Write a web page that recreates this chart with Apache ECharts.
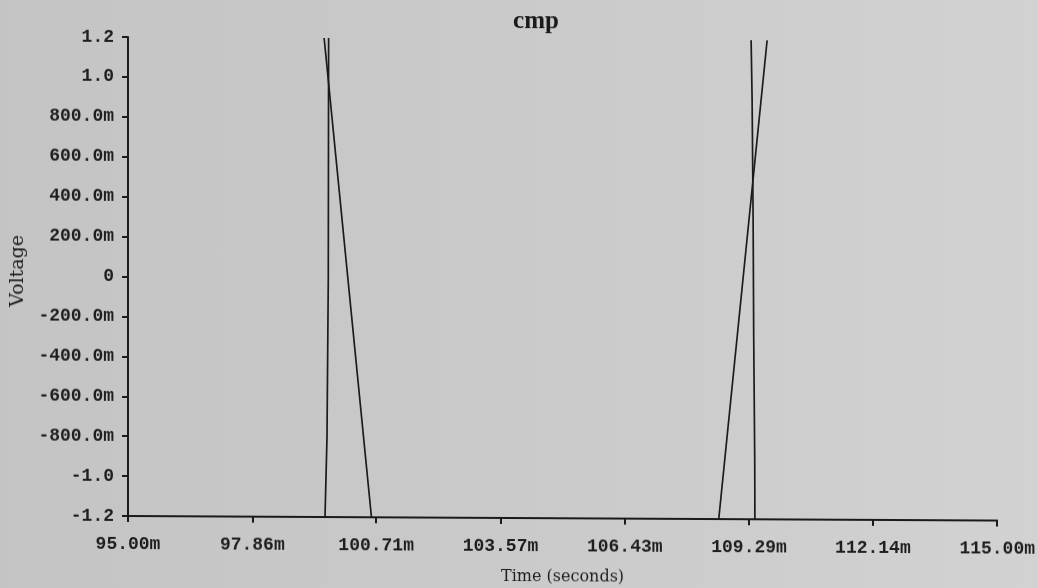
<!DOCTYPE html>
<html>
<head>
<meta charset="utf-8">
<script src="https://cdn.jsdelivr.net/npm/echarts@6/dist/echarts.min.js"></script>
<style>
  html, body { margin: 0; padding: 0; }
  body { width: 1038px; height: 588px; overflow: hidden;
         background: linear-gradient(90deg, #c4c4c4 0%, #cacaca 50%, #d2d2d2 100%); }
  #chart { width: 1038px; height: 588px; transform: skewY(0.3deg); transform-origin: 128px 0; }
</style>
</head>
<body>
<div id="chart"></div>
<script>
// ---- Data (time in ms, voltage in V) ----
const chartTitle = 'cmp';
const xAxisName = 'Time (seconds)';
const yAxisName = 'Voltage';

const xTickLabels = ['95.00m', '97.86m', '100.71m', '103.57m', '106.43m', '109.29m', '112.14m', '115.00m'];
const yTickValues = [-1.2, -1.0, -0.8, -0.6, -0.4, -0.2, 0, 0.2, 0.4, 0.6, 0.8, 1.0, 1.2];
const yTickLabels = ['-1.2', '-1.0', '-800.0m', '-600.0m', '-400.0m', '-200.0m', '0',
                     '200.0m', '400.0m', '600.0m', '800.0m', '1.0', '1.2'];

// ramp (triangle) signal: visible segments only, null = break
const rampTime = [99.513, 100.602, null, 108.593, 109.706];
const rampVolt = [1.2, -1.2, null, -1.2, 1.2];

// comparator output: steep edges, visible segments only
const cmpTime = [99.533, 99.579, 99.609, 99.616, null, 109.338, 109.361, 109.384, 109.398, 109.421, 109.425];
const cmpVolt = [-1.2, -0.8, 0.0, 1.2, null, 1.2, 0.9, 0.3, -0.3, -0.9, -1.2];

// ---- build ----
function pairs(xs, ys) {
  return xs.map((x, i) => (x === null || ys[i] === null) ? [NaN, NaN] : [x, ys[i]]);
}
const xTickValues = xTickLabels.map(s => parseFloat(s));
const xMin = xTickValues[0], xMax = xTickValues[xTickValues.length - 1];

const labelFont = { fontFamily: '"Liberation Mono", "DejaVu Sans Mono", monospace', fontSize: 18, fontWeight: 'bold', color: '#1e1e1e' };
const ink = '#1a1a1a';

function nearestLabel(values, labels, v) {
  let best = 0;
  values.forEach((t, i) => { if (Math.abs(t - v) < Math.abs(values[best] - v)) best = i; });
  return labels[best];
}

const chart = echarts.init(document.getElementById('chart'), null, { renderer: 'canvas' });
chart.setOption({
  backgroundColor: 'transparent',
  animation: false,
  title: {
    text: chartTitle,
    left: 531, top: 2, textAlign: 'center',
    textStyle: { fontFamily: '"Liberation Serif", serif', fontSize: 25, fontWeight: 'bold', color: '#1a1a1a' }
  },
  grid: { left: 128, right: 40, top: 37, bottom: 72, containLabel: false },
  xAxis: {
    type: 'value', min: xMin, max: xMax,
    name: xAxisName, nameLocation: 'middle', nameGap: 51,
    nameTextStyle: { fontFamily: '"DejaVu Serif", serif', fontSize: 16, color: '#1e1e1e' },
    axisLine: { show: true, onZero: false, lineStyle: { color: ink, width: 2 } },
    axisTick: { show: true, inside: false, length: 6, customValues: xTickValues, lineStyle: { color: ink, width: 2 } },
    axisLabel: Object.assign({ margin: 19, customValues: xTickValues,
      formatter: (v) => nearestLabel(xTickValues, xTickLabels, v),
      showMinLabel: true, showMaxLabel: true }, labelFont),
    splitLine: { show: false }
  },
  yAxis: {
    type: 'value', min: -1.2, max: 1.2, interval: 0.2,
    name: yAxisName, nameLocation: 'middle', nameGap: 100, nameRotate: 90,
    nameTextStyle: { fontFamily: '"DejaVu Serif", serif', fontSize: 19, color: '#1e1e1e', padding: [0, 0, 0, 10] },
    axisLine: { show: true, onZero: false, lineStyle: { color: ink, width: 2 } },
    axisTick: { show: true, inside: false, length: 6, lineStyle: { color: ink, width: 2 } },
    axisLabel: Object.assign({ margin: 14,
      formatter: (v) => nearestLabel(yTickValues, yTickLabels, v) }, labelFont),
    splitLine: { show: false }
  },
  series: [
    { name: 'ramp', type: 'line', data: pairs(rampTime, rampVolt), showSymbol: false, symbol: 'none',
      connectNulls: false, clip: true, lineStyle: { color: ink, width: 1.7 } },
    { name: 'cmp', type: 'line', data: pairs(cmpTime, cmpVolt), showSymbol: false, symbol: 'none',
      connectNulls: false, clip: true, lineStyle: { color: ink, width: 1.7 } }
  ]
});
</script>
</body>
</html>
